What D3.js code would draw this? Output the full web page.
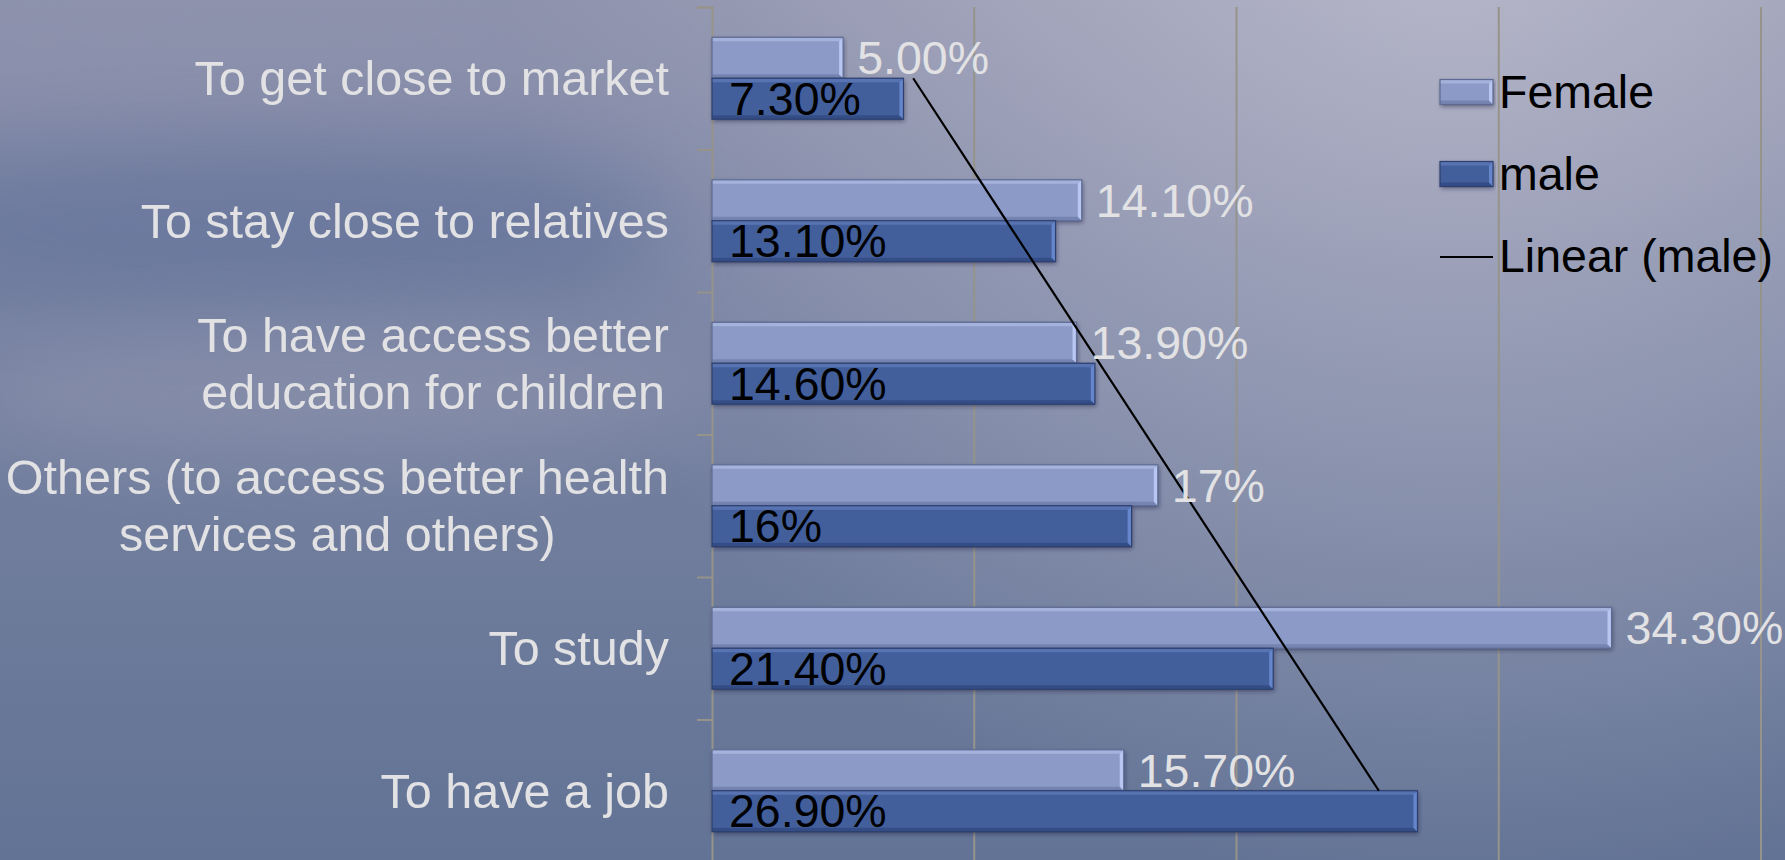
<!DOCTYPE html>
<html>
<head>
<meta charset="utf-8">
<script src="https://cdn.jsdelivr.net/npm/d3@7"></script>
<style>
  html, body { margin: 0; padding: 0; overflow: hidden; background: #77829f; }
  svg { display: block; }
</style>
</head>
<body>
<svg id="chart" width="1785" height="860"></svg>
<script>
// ---- data -------------------------------------------------------------
const categories = [
  "To get close to market",
  "To stay close to relatives",
  "To have access better\neducation for children",
  "Others (to access better health\nservices and others)",
  "To study",
  "To have a job"
];
const seriesNames = ["Female", "male"];
const femaleValues = [5.0, 14.1, 13.9, 17, 34.3, 15.7];
const maleValues   = [7.3, 13.1, 14.6, 16, 21.4, 26.9];
const labelDecimals = [2, 2, 2, 0, 2, 2];
const xTicks = [0, 10, 20, 30, 40];
const trendName = "Linear (male)";

// ---- layout -----------------------------------------------------------
const W = 1785, H = 860;
const plot = { left: 712, right: 1761, top: 7, bottom: 862 };
const FONT = "'Liberation Sans', Arial, Helvetica, sans-serif";
const FS_CAT = 48.5;   // category labels
const FS = 46.5;       // data labels and legend

const svg = d3.select("#chart");
const defs = svg.append("defs");

// background gradients
const base = defs.append("linearGradient").attr("id", "bgBase")
  .attr("x1", 0).attr("y1", 0).attr("x2", 0).attr("y2", 1);
[["0%", "#8b90ab"], ["30%", "#7a84a3"], ["65%", "#6f7c9c"], ["100%", "#627395"]]
  .forEach(([o, c]) => base.append("stop").attr("offset", o).attr("stop-color", c));

const glow = defs.append("radialGradient").attr("id", "glow")
  .attr("gradientUnits", "userSpaceOnUse")
  .attr("cx", 1450).attr("cy", -60).attr("r", 950);
glow.append("stop").attr("offset", "0%").attr("stop-color", "#d8d4e0").attr("stop-opacity", 0.55);
glow.append("stop").attr("offset", "100%").attr("stop-color", "#d8d4e0").attr("stop-opacity", 0);

const haze = defs.append("filter").attr("id", "haze")
  .attr("x", "-50%").attr("y", "-50%").attr("width", "200%").attr("height", "200%");
haze.append("feGaussianBlur").attr("stdDeviation", 40);

const shadow = defs.append("filter").attr("id", "barShadow")
  .attr("x", "-5%").attr("y", "-30%").attr("width", "110%").attr("height", "170%");
shadow.append("feDropShadow").attr("dx", 1).attr("dy", 2).attr("stdDeviation", 2)
  .attr("flood-color", "#1c2440").attr("flood-opacity", 0.55);

const bg = svg.append("g");
bg.append("rect").attr("width", W).attr("height", H).attr("fill", "url(#bgBase)");
bg.append("rect").attr("width", W).attr("height", H).attr("fill", "url(#glow)");
// soft cloud bands
bg.append("ellipse").attr("cx", 260).attr("cy", 225).attr("rx", 420).attr("ry", 80)
  .attr("fill", "#5a6c98").attr("opacity", 0.45).attr("filter", "url(#haze)");
bg.append("ellipse").attr("cx", 330).attr("cy", 395).attr("rx", 380).attr("ry", 70)
  .attr("fill", "#a0a2b8").attr("opacity", 0.35).attr("filter", "url(#haze)");
bg.append("ellipse").attr("cx", 250).attr("cy", 40).attr("rx", 500).attr("ry", 70)
  .attr("fill", "#9498b2").attr("opacity", 0.35).attr("filter", "url(#haze)");

// ---- scales -----------------------------------------------------------
const x = d3.scaleLinear().domain([0, 40]).range([plot.left, plot.right]);
const y = d3.scaleBand().domain(d3.range(categories.length))
  .range([plot.top, plot.bottom]).paddingInner(0).paddingOuter(0);
const inner = d3.scaleBand().domain(seriesNames)
  .range([0, y.bandwidth()]).paddingInner(0).paddingOuter(0.74);

// ---- gridlines & axis -------------------------------------------------
const gridColor = "#96938a";
const grid = svg.append("g");
grid.selectAll("line.grid").data(xTicks.filter(t => t > 0)).join("line")
  .attr("x1", d => x(d)).attr("x2", d => x(d))
  .attr("y1", plot.top).attr("y2", plot.bottom)
  .attr("stroke", gridColor).attr("stroke-width", 2);

// category axis with tick marks between categories
const yAxis = d3.axisLeft(d3.scaleLinear().domain([0, categories.length]).range([plot.top, plot.bottom]))
  .tickValues(d3.range(categories.length + 1)).tickSize(15).tickFormat("");
const axG = svg.append("g").attr("transform", `translate(${plot.left},0)`).call(yAxis);
axG.select(".domain").attr("stroke", gridColor).attr("stroke-width", 2);
axG.selectAll(".tick line").attr("stroke", gridColor).attr("stroke-width", 2);

// category labels (multi-line centred blocks, right-aligned to the axis)
const labelRight = 669;
const catG = svg.append("g").attr("font-family", FONT).attr("font-size", FS_CAT).attr("fill", "#e2e2e4");
categories.forEach((c, i) => {
  const lines = c.split("\n");
  const lh = FS_CAT * 1.17;
  const cy = y(i) + y.bandwidth() / 2;
  const t = catG.append("text");
  if (lines.length === 1) {
    t.attr("text-anchor", "end").attr("x", labelRight).attr("y", cy).attr("dy", "0.35em").text(lines[0]);
  } else {
    // measure widest line to centre the block
    const tmp = catG.append("text");
    const wMax = d3.max(lines, l => { tmp.text(l); return tmp.node().getComputedTextLength(); });
    tmp.remove();
    const cx = labelRight - wMax / 2;
    lines.forEach((l, k) => {
      t.append("tspan").attr("text-anchor", "middle").attr("x", cx)
        .attr("y", cy + (k - (lines.length - 1) / 2) * lh).attr("dy", "0.35em").text(l);
    });
  }
});

// ---- bars -------------------------------------------------------------
const palettes = {
  Female: { base: "#8b9ac6", top: "#a4b2dc", bottom: "#7584b2", end: "#b9c6f2", edge: "#5d6a92" },
  male:   { base: "#425e9c", top: "#5873b2", bottom: "#344d86", end: "#6686cc", edge: "#2c3f6e" }
};

function bevelBar(g, x0, x1, y0, h, pal) {
  const b = 4;
  const y1 = y0 + h;
  g.append("rect").attr("x", x0).attr("y", y0).attr("width", x1 - x0).attr("height", h)
    .attr("fill", pal.base).attr("filter", "url(#barShadow)");
  g.append("polygon").attr("points", [[x0, y0], [x1, y0], [x1 - b, y0 + b], [x0, y0 + b]].join(" "))
    .attr("fill", pal.top);
  g.append("polygon").attr("points", [[x0, y1], [x1, y1], [x1 - b, y1 - b], [x0, y1 - b]].join(" "))
    .attr("fill", pal.bottom);
  g.append("polygon").attr("points", [[x1, y0], [x1, y1], [x1 - b, y1 - b], [x1 - b, y0 + b]].join(" "))
    .attr("fill", pal.end);
  g.append("rect").attr("x", x0).attr("y", y0).attr("width", x1 - x0).attr("height", h)
    .attr("fill", "none").attr("stroke", pal.edge).attr("stroke-width", 1.2);
}

const seriesData = { Female: femaleValues, male: maleValues };
const barG = svg.append("g");
seriesNames.forEach(s => {
  seriesData[s].forEach((v, i) => {
    bevelBar(barG, x(0), x(v), y(i) + inner(s), inner.bandwidth(), palettes[s]);
  });
});

// ---- linear trend of the male series ---------------------------------
const idx = maleValues.map((_, i) => i + 1);
const mx = d3.mean(idx), my = d3.mean(maleValues);
const slope = d3.sum(idx, (t, k) => (t - mx) * (maleValues[k] - my)) / d3.sum(idx, t => (t - mx) ** 2);
const intercept = my - slope * mx;
const trendPts = [1, idx.length].map(t => [x(intercept + slope * t), y(t - 1) + y.bandwidth() / 2]);
svg.append("line")
  .attr("x1", trendPts[0][0]).attr("y1", trendPts[0][1])
  .attr("x2", trendPts[1][0]).attr("y2", trendPts[1][1])
  .attr("stroke", "#000").attr("stroke-width", 2.2);

// ---- data labels ------------------------------------------------------
const fmt = (v, d) => v.toFixed(d) + "%";
const lblG = svg.append("g").attr("font-family", FONT).attr("font-size", FS);
femaleValues.forEach((v, i) => {
  lblG.append("text").attr("x", x(v) + 14)
    .attr("y", y(i) + inner("Female") + inner.bandwidth() / 2).attr("dy", "0.35em")
    .attr("fill", "#e2e2e4").text(fmt(v, labelDecimals[i]));
});
maleValues.forEach((v, i) => {
  lblG.append("text").attr("x", x(0) + 17)
    .attr("y", y(i) + inner("male") + inner.bandwidth() / 2).attr("dy", "0.35em")
    .attr("fill", "#000").text(fmt(v, labelDecimals[i]));
});

// ---- legend -----------------------------------------------------------
const leg = svg.append("g").attr("transform", "translate(1440,0)")
  .attr("font-family", FONT).attr("font-size", FS);
const legRows = [92, 174, 256];
seriesNames.forEach((s, k) => {
  bevelBar(leg, 0, 53, legRows[k] - 12.5, 25, palettes[s]);
  leg.append("text").attr("x", 59).attr("y", legRows[k]).attr("dy", "0.35em").attr("fill", "#000").text(s);
});
leg.append("line").attr("x1", 0).attr("x2", 53).attr("y1", legRows[2] + 1).attr("y2", legRows[2] + 1)
  .attr("stroke", "#000").attr("stroke-width", 2.2);
leg.append("text").attr("x", 59).attr("y", legRows[2]).attr("dy", "0.35em").attr("fill", "#000").text(trendName);
</script>
</body>
</html>
